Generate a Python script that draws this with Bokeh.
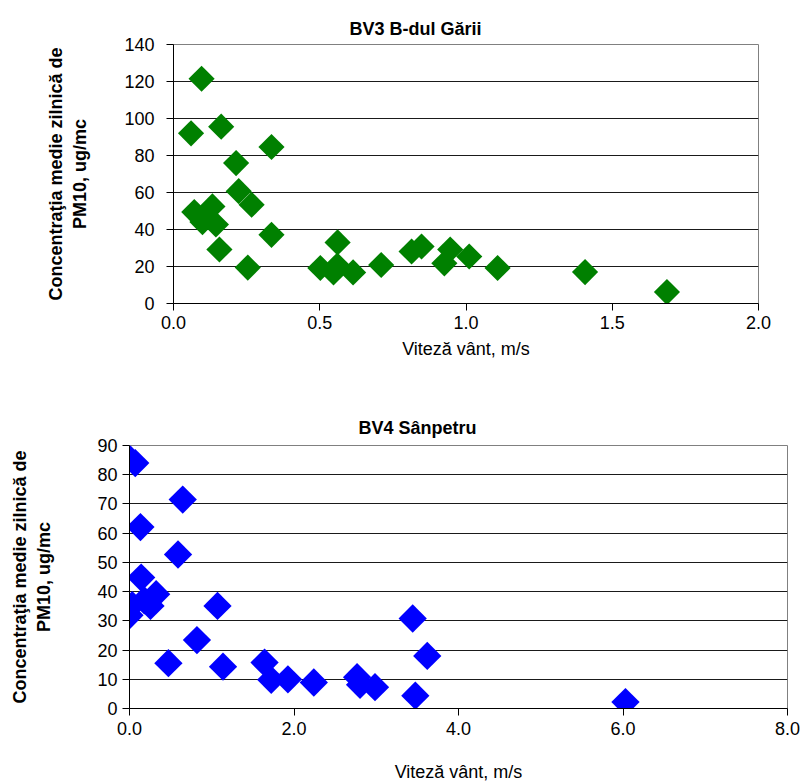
import math
from bokeh.plotting import figure
from bokeh.layouts import column
from bokeh.models import FixedTicker, NumeralTickFormatter, Range1d
from bokeh.embed import file_html
from bokeh.resources import INLINE

# ---- data: BV3 B-dul Gării ----
bv3_title = "BV3 B-dul Gării"
bv3_wind = [0.096, 0.060, 0.163, 0.335, 0.214, 0.223, 0.267, 0.071, 0.133, 0.099,
            0.145, 0.110, 0.335, 0.157, 0.254, 0.561, 0.502, 0.547, 0.560, 0.614,
            0.710, 0.814, 0.848, 0.946, 0.926, 1.011, 1.108, 1.407, 1.687]
bv3_pm10 = [121.5, 92.0, 95.6, 84.6, 75.9, 60.7, 53.4, 49.4, 52.5, 44.0,
            42.7, 47.0, 37.1, 29.2, 19.4, 33.0, 19.2, 16.8, 20.5, 16.8,
            20.8, 28.1, 30.8, 29.2, 21.7, 25.4, 19.2, 17.0, 6.2]
bv3_xticks = [0.0, 0.5, 1.0, 1.5, 2.0]
bv3_yticks = [0, 20, 40, 60, 80, 100, 120, 140]

# ---- data: BV4 Sânpetru ----
bv4_title = "BV4 Sânpetru"
bv4_wind = [0.00, 0.07, 0.647, 0.133, 0.590, 0.142, 0.324, 0.255, 0.033, 0.00,
            0.180, 1.070, 0.820, 0.473, 1.137, 1.642, 1.723, 1.926, 2.241, 2.767,
            2.803, 2.985, 3.443, 3.620, 3.475, 6.030]
bv4_pm10 = [85.5, 84.0, 71.5, 62.1, 52.7, 44.8, 39.1, 35.1, 35.4, 31.9,
            37.0, 35.1, 23.4, 15.5, 14.3, 15.7, 9.8, 10.0, 8.9, 10.7,
            8.1, 7.3, 30.8, 18.0, 4.4, 2.2]
bv4_xticks = [0.0, 2.0, 4.0, 6.0, 8.0]
bv4_yticks = [0, 10, 20, 30, 40, 50, 60, 70, 80, 90]

x_label = "Viteză vânt, m/s"
y_label = "Concentraţia medie zilnică de\nPM10, ug/mc"

FONT = "Liberation Sans"


def make_plot(title, xs, ys, xticks, yticks, color, msize, *, height, borders,
              title_offset, title_standoff, ylab_tick_standoff, ylab_standoff,
              xlab_tick_standoff, xlab_standoff):
    left, right, top, bottom = borders
    p = figure(width=803, height=height, output_backend="svg", toolbar_location=None,
               x_range=Range1d(xticks[0], xticks[-1]), y_range=Range1d(yticks[0], yticks[-1]),
               min_border_left=left, min_border_right=right,
               min_border_top=top, min_border_bottom=bottom)
    p.frame_align = False
    p.title.text = title
    p.title.align = "left"
    p.title.offset = title_offset
    p.title.standoff = title_standoff
    p.title.text_font = FONT
    p.title.text_font_size = "18px"
    p.title.text_font_style = "bold"
    p.title.text_color = "black"

    p.outline_line_color = "#808080"
    p.outline_line_width = 1
    p.background_fill_color = "white"
    p.border_fill_color = "white"

    p.xgrid.visible = False
    p.ygrid.grid_line_color = "#1a1a1a"
    p.ygrid.grid_line_width = 1

    xa = p.xaxis[0]
    xa.ticker = FixedTicker(ticks=xticks)
    xa.formatter = NumeralTickFormatter(format="0.0")
    ya = p.yaxis[0]
    ya.ticker = FixedTicker(ticks=yticks)
    for ax in (xa, ya):
        ax.minor_tick_line_color = None
        ax.major_tick_in = 0
        ax.major_tick_out = 7
        ax.axis_line_color = "black"
        ax.major_tick_line_color = "black"
        ax.major_label_text_font = FONT
        ax.major_label_text_font_size = "18px"
        ax.major_label_text_color = "black"
        ax.axis_label_text_color = "black"
        ax.axis_label_text_font = FONT
    xa.axis_label = x_label
    xa.axis_label_text_font_size = "18px"
    xa.axis_label_text_font_style = "normal"
    xa.major_label_standoff = xlab_tick_standoff
    xa.axis_label_standoff = xlab_standoff
    ya.axis_label = y_label
    ya.axis_label_text_font_size = "18px"
    ya.axis_label_text_font_style = "bold"
    ya.major_label_standoff = ylab_tick_standoff
    ya.axis_label_standoff = ylab_standoff

    p.scatter(xs, ys, marker="square", size=msize, angle=math.pi / 4,
              fill_color=color, line_color=None)
    return p


p1 = make_plot(bv3_title, bv3_wind, bv3_pm10, bv3_xticks, bv3_yticks, "#008000", 18.5,
               height=383, borders=(173, 45, 44, 80),
               title_offset=176, title_standoff=12,
               ylab_tick_standoff=12, ylab_standoff=31,
               xlab_tick_standoff=5, xlab_standoff=7)
p2 = make_plot(bv4_title, bv4_wind, bv4_pm10, bv4_xticks, bv4_yticks, "#0000FF", 20,
               height=401, borders=(129, 16, 62, 75),
               title_offset=229, title_standoff=15,
               ylab_tick_standoff=5, ylab_standoff=40,
               xlab_tick_standoff=6, xlab_standoff=24)

layout = column(p1, p2, spacing=0)
open("out.html", "w").write(file_html(layout, INLINE))
